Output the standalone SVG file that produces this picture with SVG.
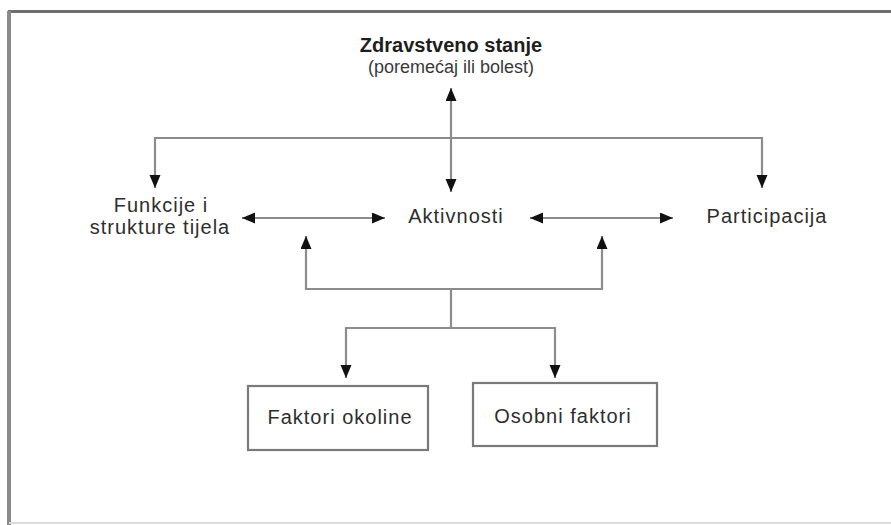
<svg xmlns="http://www.w3.org/2000/svg" width="891" height="525" viewBox="0 0 891 525">
<style>
.lbl{font-family:"Liberation Sans",Arial,sans-serif;font-size:20px;fill:#2e2e2e;letter-spacing:1px;text-anchor:middle}
.ttl{font-family:"Liberation Sans",Arial,sans-serif;font-size:20px;font-weight:bold;fill:#1e1e1e;text-anchor:middle}
.sub{font-family:"Liberation Sans",Arial,sans-serif;font-size:18px;fill:#3a3a3a;text-anchor:middle}
.con{fill:none;stroke:#8c8c8c;stroke-width:2.2}
.box{fill:#fff;stroke:#7a7a7a;stroke-width:2.2}
</style>
<defs>
<marker id="ah" markerUnits="userSpaceOnUse" markerWidth="14" markerHeight="12" refX="13" refY="5.5" orient="auto-start-reverse">
<path d="M0,0 L13,5.5 L0,11 Z" fill="#111"/>
</marker>
</defs>
<rect width="891" height="525" fill="#fff"/>
<g id="frame">
<line x1="8" y1="11.5" x2="891" y2="11.5" stroke="#6e6e6e" stroke-width="3"/>
<line x1="9" y1="11" x2="9" y2="525" stroke="#8a8a8a" stroke-width="4"/>
<line x1="9" y1="523" x2="891" y2="523" stroke="#dcdcdc" stroke-width="2"/>
</g>
<g id="connectors">
<line class="con" x1="451" y1="138" x2="451" y2="88" marker-end="url(#ah)"/>
<line class="con" x1="451" y1="138" x2="451" y2="192" marker-end="url(#ah)"/>
<path class="con" d="M155,188 V138 H762 V188" marker-start="url(#ah)" marker-end="url(#ah)"/>
<line class="con" x1="242" y1="218" x2="385" y2="218" marker-start="url(#ah)" marker-end="url(#ah)"/>
<line class="con" x1="530" y1="218" x2="673" y2="218" marker-start="url(#ah)" marker-end="url(#ah)"/>
<path class="con" d="M306,236 V289 H602 V236" marker-start="url(#ah)" marker-end="url(#ah)"/>
<line class="con" x1="451" y1="289" x2="451" y2="328"/>
<path class="con" d="M346,378 V328 H555 V378" marker-start="url(#ah)" marker-end="url(#ah)"/>
</g>
<g id="zdravstveno">
<text class="ttl" x="451" y="52">Zdravstveno stanje</text>
<text class="sub" x="451" y="73">(poremećaj ili bolest)</text>
</g>
<g id="funkcije">
<text class="lbl" x="161" y="212">Funkcije i</text>
<text class="lbl" x="160" y="234">strukture tijela</text>
</g>
<g id="aktivnosti">
<text class="lbl" x="456" y="223">Aktivnosti</text>
</g>
<g id="participacija">
<text class="lbl" x="767" y="223">Participacija</text>
</g>
<g id="faktori-okoline">
<rect class="box" x="248" y="386" width="180" height="64"/>
<text class="lbl" x="340" y="424">Faktori okoline</text>
</g>
<g id="osobni-faktori">
<rect class="box" x="473" y="383" width="184" height="63"/>
<text class="lbl" x="563" y="423">Osobni faktori</text>
</g>
</svg>
